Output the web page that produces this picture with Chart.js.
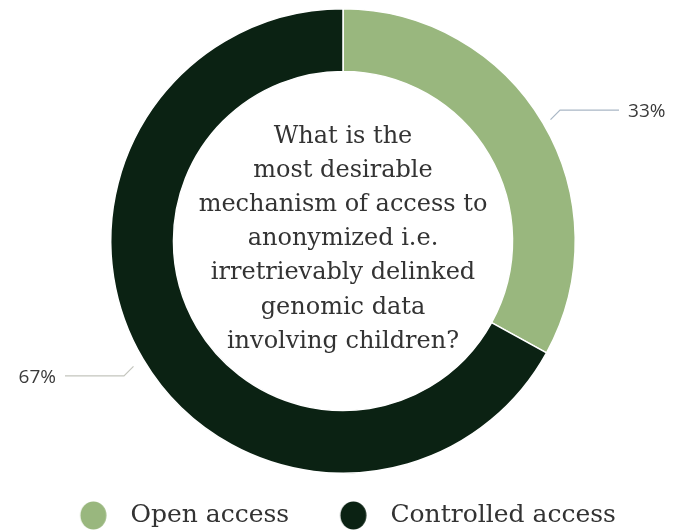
<!DOCTYPE html>
<html>
<head>
<meta charset="utf-8">
<script src="https://cdn.jsdelivr.net/npm/chart.js@4"></script>
<style>
  html, body { margin: 0; padding: 0; background: #fff; }
  #wrap { width: 673px; height: 531px; }
</style>
</head>
<body>
<div id="wrap"><canvas id="chart" width="673" height="531"></canvas></div>
<script>
const categories = ["Open access", "Controlled access"];
const shares = [33, 67];
const sliceColors = ["#99b77e", "#0b2213"];
const leaderColors = ["#a9b7c5", "#c3c5bd"];
const centerLines = [
  "What is the",
  "most desirable",
  "mechanism of access to",
  "anonymized i.e.",
  "irretrievably delinked",
  "genomic data",
  "involving children?"
];

const serif = "'DejaVu Serif', 'Liberation Serif', serif";

// legend dots: small canvas per item, dot a bit right of the box centre
const DOT_BOX = 60.3;
function makeDot(color) {
  const c = document.createElement("canvas");
  c.width = 40;
  c.height = 30;
  const g = c.getContext("2d");
  g.fillStyle = color;
  g.beginPath();
  g.ellipse(25.6, 15.5, 13, 14, 0, 0, Math.PI * 2);
  g.fill();
  return c;
}
const dots = sliceColors.map(makeDot);

// question text in the hole
const centerText = {
  id: "centerText",
  afterDraw(chart) {
    const arc = chart.getDatasetMeta(0).data[0];
    const ctx = chart.ctx;
    ctx.save();
    ctx.fillStyle = "#333";
    ctx.font = "24px " + serif;
    ctx.textAlign = "center";
    ctx.textBaseline = "middle";
    const lh = 34.2;
    const top = arc.y - lh * (centerLines.length - 1) / 2 - 2;
    centerLines.forEach((t, i) => ctx.fillText(t, arc.x, top + i * lh));
    ctx.restore();
  }
};

// percentage labels with elbow leader lines
const leaderLabels = {
  id: "leaderLabels",
  afterDraw(chart) {
    const ctx = chart.ctx;
    const meta = chart.getDatasetMeta(0);
    const total = shares.reduce((a, b) => a + b, 0);
    ctx.save();
    ctx.font = "19px 'Open Sans', sans-serif";
    ctx.textBaseline = "middle";
    meta.data.forEach((arc, i) => {
      const mid = (arc.startAngle + arc.endAngle) / 2;
      const r = arc.outerRadius + 10;
      const sx = arc.x + Math.cos(mid) * r - 1;
      const sy = arc.y + Math.sin(mid) * r + 2;
      const dir = Math.cos(mid) >= 0 ? 1 : -1;
      const ex = sx + dir * 9.5;
      const ey = sy + (Math.sin(mid) >= 0 ? 9.5 : -9.5);
      const hx = ex + dir * 59;
      ctx.strokeStyle = leaderColors[i];
      ctx.lineWidth = 1.2;
      ctx.beginPath();
      ctx.moveTo(sx, sy);
      ctx.lineTo(ex, ey);
      ctx.lineTo(hx, ey);
      ctx.stroke();
      ctx.fillStyle = "#3a3a3a";
      ctx.textAlign = dir > 0 ? "left" : "right";
      const pct = Math.round(shares[i] / total * 100) + "%";
      ctx.fillText(pct, hx + dir * 9, ey + 1.5);
    });
    ctx.restore();
  }
};

new Chart(document.getElementById("chart"), {
  type: "doughnut",
  data: {
    labels: categories,
    datasets: [{
      data: shares,
      backgroundColor: sliceColors,
      borderColor: "#fff",
      borderWidth: 1.5,
      hoverOffset: 0
    }]
  },
  options: {
    responsive: false,
    animation: false,
    cutout: "73%",
    layout: { padding: { top: 8, left: 13, right: 0, bottom: 0 } },
    plugins: {
      tooltip: { enabled: false },
      legend: {
        position: "bottom",
        maxHeight: 57,
        labels: {
          usePointStyle: true,
          pointStyleWidth: DOT_BOX,
          boxHeight: 25,
          padding: 28.5,
          color: "#333",
          font: { family: serif, size: 25 },
          // trailing en space on the last item only nudges the centred row left
          generateLabels: () => categories.map((c, i) => ({
            text: i === categories.length - 1 ? c + "\u2002" : c,
            fillStyle: sliceColors[i],
            strokeStyle: sliceColors[i],
            lineWidth: 0,
            pointStyle: dots[i],
            fontColor: "#333",
            hidden: false,
            index: i
          }))
        }
      }
    }
  },
  plugins: [centerText, leaderLabels]
});
</script>
</body>
</html>
